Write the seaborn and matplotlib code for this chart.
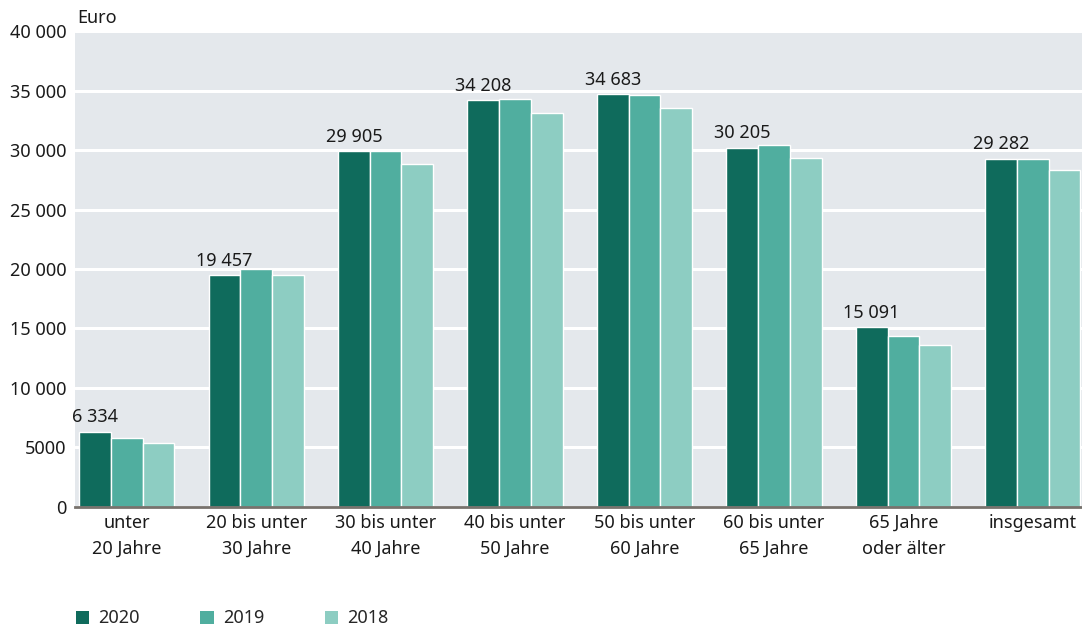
import matplotlib
matplotlib.use("Agg")
import matplotlib.pyplot as plt
import seaborn as sns
import pandas as pd
from matplotlib.patches import Patch

categories = ["unter\n20 Jahre", "20 bis unter\n30 Jahre", "30 bis unter\n40 Jahre",
              "40 bis unter\n50 Jahre", "50 bis unter\n60 Jahre", "60 bis unter\n65 Jahre",
              "65 Jahre\noder älter", "insgesamt"]
years = ["2020", "2019", "2018"]
v2020 = [6334, 19457, 29905, 34208, 34683, 30205, 15091, 29282]
v2019 = [5800, 20000, 29950, 34300, 34650, 30400, 14400, 29250]
v2018 = [5400, 19500, 28800, 33150, 33500, 29300, 13650, 28300]
yticks = [0, 5000, 10000, 15000, 20000, 25000, 30000, 35000, 40000]
ytick_labels = ["0", "5000", "10 000", "15 000", "20 000", "25 000", "30 000", "35 000", "40 000"]
colors = ["#0f6b5c", "#50ae9f", "#8dcdc2"]

rows = []
for c, a, b, d in zip(categories, v2020, v2019, v2018):
    rows.append((c, "2020", a))
    rows.append((c, "2019", b))
    rows.append((c, "2018", d))
df = pd.DataFrame(rows, columns=["cat", "year", "value"])

sns.set_style("white")
plt.rcParams["font.family"] = ["Noto Sans", "DejaVu Sans"]

FS = 13

fig = plt.figure(figsize=(10.82, 6.28), dpi=100)
ax = fig.add_axes([0.0693, 0.1927, 0.9307, 0.7579])
ax.set_facecolor("#e4e8ec")

sns.barplot(data=df, x="cat", y="value", hue="year", hue_order=years, palette=colors,
            width=0.735, edgecolor="white", linewidth=1, saturation=1, ax=ax, legend=False,
            zorder=3)

ax.set_ylim(0, 40000)
ax.set_xlim(-0.4, 7.38)
ax.set_yticks(yticks)
ax.set_yticklabels(ytick_labels)
ax.yaxis.grid(True, color="white", linewidth=2.2, zorder=0)
ax.set_axisbelow(True)
for s in ["top", "right", "left"]:
    ax.spines[s].set_visible(False)
ax.spines["bottom"].set_color("#77726d")
ax.spines["bottom"].set_linewidth(2)
ax.spines["bottom"].set_zorder(5)
ax.tick_params(axis="y", length=0, pad=6, labelsize=FS, labelcolor="#1a1a1a")
ax.tick_params(axis="x", length=0, pad=5, labelsize=FS, labelcolor="#1a1a1a")
for lbl in ax.get_xticklabels():
    lbl.set_linespacing(1.55)
ax.set_xlabel("")
ax.set_ylabel("")

# value labels on 2020 bars
cont = ax.containers[0]
for bar, v in zip(cont, v2020):
    s = f"{v:,}".replace(",", " ")
    ax.text(bar.get_x() + bar.get_width() / 2, v + 450, s, ha="center", va="bottom",
            fontsize=FS, color="#1a1a1a", zorder=6)

fig.text(0.0693 + 0.002, 0.957, "Euro", ha="left", va="bottom", fontsize=FS, color="#1a1a1a")

handles = [Patch(facecolor=c, edgecolor="none") for c in colors]
fig.legend(handles, years, loc="lower left", bbox_to_anchor=(0.055, -0.025), ncol=3,
           frameon=False, fontsize=FS, handlelength=0.75, handleheight=0.75,
           handletextpad=0.5, columnspacing=3.35)

fig.savefig("out.png", dpi=100)
